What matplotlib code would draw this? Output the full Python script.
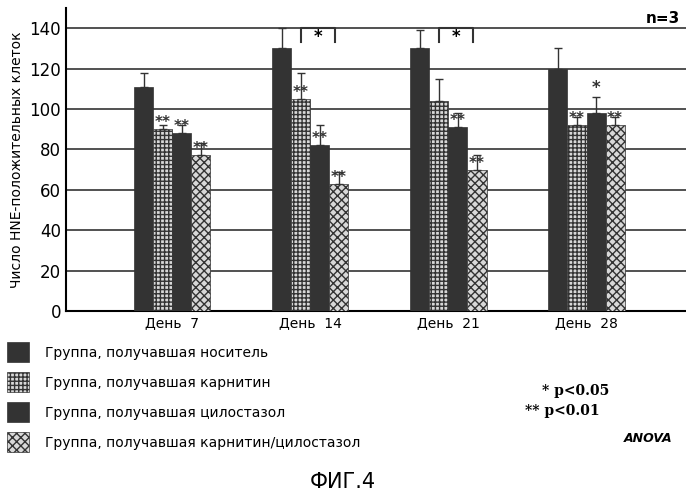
import numpy as np
import matplotlib.pyplot as plt
from matplotlib.patches import Rectangle

days = ['День  7', 'День  14', 'День  21', 'День  28']
groups = ['Группа, получавшая носитель',
          'Группа, получавшая карнитин',
          'Группа, получавшая цилостазол',
          'Группа, получавшая карнитин/цилостазол']
vals = [[111, 130, 130, 120],
        [90, 105, 104, 92],
        [88, 82, 91, 98],
        [77, 63, 70, 92]]
errs = [[7, 10, 9, 10],
        [2, 13, 11, 4],
        [4, 10, 7, 8],
        [6, 6, 7, 4]]
stars = [['', '', '', ''],
         ['**', '**', '', '**'],
         ['**', '**', '**', '*'],
         ['**', '**', '**', '**']]

colors = ['#333333', '#d8d8d8', '#333333', '#d8d8d8']
hatches = ['', '++++', '', 'xxxx']

fig = plt.figure(figsize=(6.86, 5), dpi=100)
ax = fig.add_axes([0.096, 0.378, 0.904, 0.606])
x = np.arange(len(days))
w = 0.138
for i in range(4):
    xs = x + (i - 1.5) * w
    ax.bar(xs, vals[i], w, color=colors[i], hatch=hatches[i],
           edgecolor='#333333', linewidth=0.5, zorder=3)
    ax.errorbar(xs, vals[i], yerr=[np.zeros(4), errs[i]], fmt='none',
                ecolor='#333333', capsize=3, elinewidth=1, zorder=4)
    for j in range(4):
        if stars[i][j]:
            if i == 2 and j == 3:
                ax.text(xs[j], vals[i][j] + errs[i][j] + 2, '*', ha='center',
                        fontsize=12, fontweight='bold', color='#333333')
            else:
                ax.text(xs[j], vals[i][j] + 1, stars[i][j], ha='center',
                        fontsize=11, fontweight='bold', color='#333333')

# brackets between carnitine and combined
for j in [1, 2]:
    x1 = x[j] - 0.5 * w
    x2 = x[j] + 1.3 * w
    ax.plot([x1, x1, x2, x2], [133, 140, 140, 133], color='#333333', lw=1.5, zorder=5)
    ax.text((x1 + x2) / 2, 135.5, '*', ha='center', va='center', fontsize=12, fontweight='bold')

ax.set_xlim(-0.77, 3.72)
ax.set_ylim(0, 150)
ax.set_yticks(range(0, 141, 20))
ax.yaxis.grid(True, color='#333333', lw=1.2, zorder=0)
ax.set_xticks(x)
ax.set_xticklabels(days, fontsize=10)
ax.tick_params(axis='y', labelsize=12, length=0)
ax.tick_params(axis='x', length=0)
for s in ['top', 'right']:
    ax.spines[s].set_visible(False)
ax.spines['left'].set_linewidth(1.5)
ax.spines['bottom'].set_linewidth(1.5)
ax.set_ylabel('Число HNE-положительных клеток', fontsize=10)
ax.text(0.99, 0.99, 'n=3', transform=ax.transAxes, ha='right', va='top',
        fontsize=11, fontweight='bold')

# legend
ly = [0.295, 0.235, 0.175, 0.115]
for i in range(4):
    fig.patches.append(Rectangle((0.01, ly[i] - 0.018), 0.032, 0.04, transform=fig.transFigure,
                                 facecolor=colors[i], hatch=hatches[i], edgecolor='#333333', lw=0.5))
    fig.text(0.065, ly[i], groups[i], fontsize=10, va='center')

fig.text(0.79, 0.21, '* p<0.05', fontsize=10, fontweight='bold', fontfamily='DejaVu Serif')
fig.text(0.765, 0.17, '** p<0.01', fontsize=10, fontweight='bold', fontfamily='DejaVu Serif')
fig.text(0.91, 0.115, 'ANOVA', fontsize=9, fontstyle='italic', fontweight='bold')
fig.text(0.5, 0.025, 'ФИГ.4', fontsize=15, ha='center')

plt.savefig('out.png')
